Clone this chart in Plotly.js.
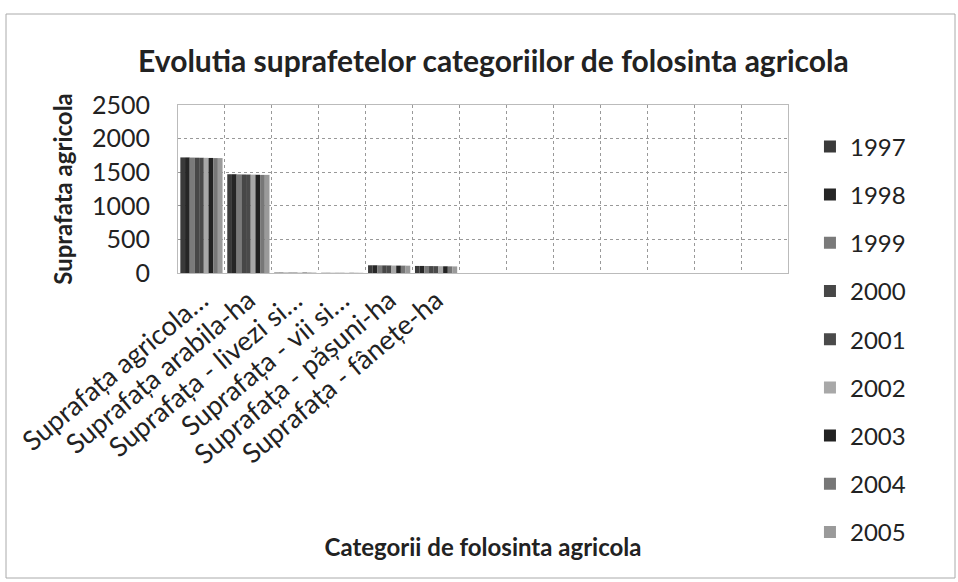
<!DOCTYPE html>
<html><head><meta charset="utf-8">
<script src="https://cdn.plot.ly/plotly-3.0.1.min.js"></script>
<style>html,body{margin:0;padding:0;background:#fff}#c{width:958px;height:582px}</style>
</head><body><div id="c"></div>
<script>
const categories = ["Suprafața agricola…","Suprafața arabila-ha","Suprafața - livezi si…","Suprafața - vii si…","Suprafața - pășuni-ha","Suprafața - fânețe-ha"];
const emptySlots = 7;
const years = ["1997","1998","1999","2000","2001","2002","2003","2004","2005"];
const v1997 = [1720,1470,6,3,115,105];
const v1998 = [1720,1470,6,3,115,105];
const v1999 = [1718,1468,6,3,114,104];
const v2000 = [1716,1466,6,3,113,103];
const v2001 = [1715,1465,6,3,112,102];
const v2002 = [1714,1464,6,3,111,101];
const v2003 = [1712,1462,6,3,110,100];
const v2004 = [1710,1460,6,3,110,99];
const v2005 = [1710,1460,6,3,109,98];
const seriesValues = [v1997,v1998,v1999,v2000,v2001,v2002,v2003,v2004,v2005];
const colors = ["#3a3a3a","#262626","#7a7a7a","#474747","#4a4a4a","#a8a8a8","#222222","#777777","#9a9a9a"];
const yTicks = [0,500,1000,1500,2000,2500];

const nCat = categories.length + emptySlots;
const xs = categories.map((_,i)=>i);
const font = "Lato, 'Open Sans', sans-serif";
const traces = years.map((y,k)=>({
  type:'bar', name:y, x:xs, y:seriesValues[k],
  marker:{color:colors[k], line:{width:0}},
  legendgroup:'g'+k, xaxis:'x', yaxis:'y'
}));
const bounds = Array.from({length:nCat+1},(_,i)=>i-0.5);
traces.push({type:'scatter', x:[bounds[0]], y:[0], xaxis:'x2', yaxis:'y', mode:'markers', marker:{opacity:0}, showlegend:false, hoverinfo:'skip'});

const L=178, R=788, T=105, B=273;
const layout = {
  width:958, height:582,
  margin:{l:L, r:958-R, t:T, b:582-B, autoexpand:false},
  paper_bgcolor:'#fff', plot_bgcolor:'#fff',
  font:{family:font, color:'#222'},
  title:{text:'<b>Evolutia suprafetelor categoriilor de folosinta agricola</b>', x:0.515, xanchor:'center', y:0.895, yanchor:'middle', font:{size:30, color:'#222', family:font}},
  barmode:'group', bargap:0.1, bargroupgap:0,
  xaxis:{range:[-0.5,nCat-0.5], tickmode:'array', tickvals:xs, ticktext:categories, tickangle:-40, automargin:false,
    showgrid:false, zeroline:false, showline:true, mirror:true, linecolor:'#bbbbbb', ticks:'', tickfont:{size:27,color:'#222'},
    title:{text:'<b>Categorii de folosinta agricola</b>', font:{size:24,color:'#222'}, standoff:70}},
  xaxis2:{overlaying:'x', matches:'x', range:[-0.5,nCat-0.5], tickmode:'array', tickvals:bounds, showticklabels:false, automargin:false,
    showgrid:true, gridcolor:'#999999', griddash:'dot', gridwidth:1, zeroline:false, ticks:''},
  yaxis:{range:[0,2500], tickmode:'array', tickvals:yTicks, showgrid:true, gridcolor:'#999999', griddash:'dot', automargin:false,
    zeroline:false, showline:true, mirror:true, linecolor:'#bbbbbb', ticks:'', tickfont:{size:25,color:'#222'}, ticklabelstandoff:22,
    title:{text:'<b>Suprafata agricola</b>', font:{size:24,color:'#222'}, standoff:12}},
  legend:{x:1.036, xanchor:'left', y:0.885, yanchor:'top', font:{size:24,color:'#222'}, tracegroupgap:14, itemwidth:30, maxheight:520, bgcolor:'rgba(0,0,0,0)'},
  showlegend:true,
  shapes:[{type:'rect', xref:'paper', yref:'paper', x0:(6-L)/(R-L), x1:(955-L)/(R-L), y0:(B-578)/(B-T), y1:(B-14)/(B-T), line:{color:'#aaaaaa', width:1}, layer:'below'}]
};
Plotly.newPlot('c', traces, layout, {displayModeBar:false, staticPlot:true});
</script></body></html>
